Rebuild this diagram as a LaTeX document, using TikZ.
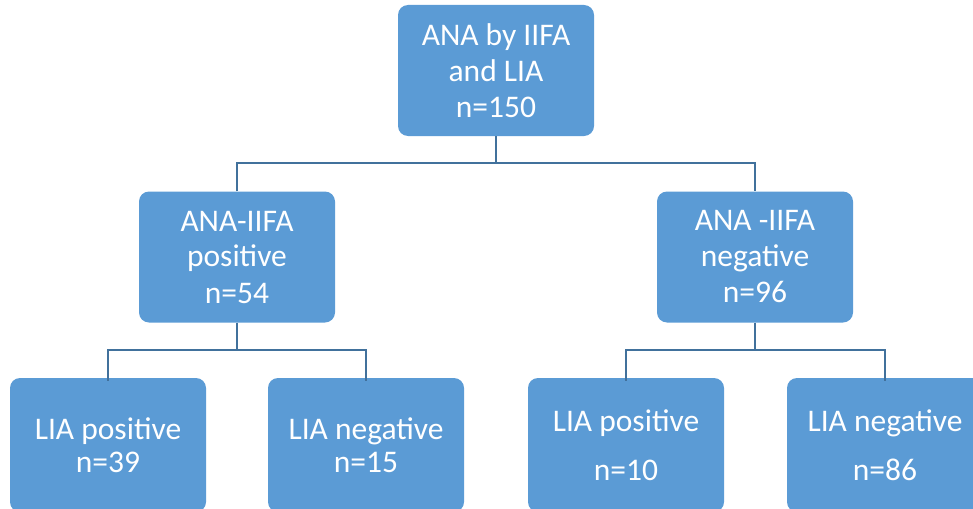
\documentclass[tikz,border=0pt]{standalone}
\usepackage{fontspec}
\setmainfont{Carlito}
\definecolor{boxblue}{HTML}{5B9BD5}
\definecolor{lineblue}{HTML}{41719C}
\begin{document}
\begin{tikzpicture}[x=1pt,y=-1pt,
  box/.style={rectangle, rounded corners=10pt, fill=boxblue, text=white,
    minimum width=196pt, minimum height=131pt, inner sep=0pt, align=center,
    font=\fontsize{31.5}{36}\selectfont},
  conn/.style={draw=lineblue, line width=1.6pt}]
\useasboundingbox (0,0) rectangle (973,508);
\node[box] (top) at (496,70.5) {ANA by IIFA\\and LIA\\n=150};
\node[box] (ml) at (237,257) {ANA-IIFA\\positive\\n=54};
\node[box] (mr) at (755,257) {ANA -IIFA\\negative\\n=96};
\node[box, minimum height=134pt] (bl1) at (108,445) {LIA positive\\[-3pt]n=39};
\node[box, minimum height=134pt] (bl2) at (366,445) {LIA negative\\[-3pt]n=15};
\node[box, minimum height=134pt] (br1) at (626,445) {LIA positive\\[13pt]n=10};
\node[box, minimum height=134pt] (br2) at (885,445) {LIA negative\\[13pt]n=86};
\coordinate (j0) at (496,163);
\coordinate (j1) at (237,350);
\coordinate (j2) at (755,350);
\draw[conn] (top.south) -- (j0);
\draw[conn] (ml.north) |- (j0) -| (mr.north);
\draw[conn] (ml.south) -- (j1);
\draw[conn] ([yshift=-3pt]bl1.north) |- (j1) -| ([yshift=-3pt]bl2.north);
\draw[conn] (mr.south) -- (j2);
\draw[conn] ([yshift=-3pt]br1.north) |- (j2) -| ([yshift=-3pt]br2.north);
\end{tikzpicture}
\end{document}
